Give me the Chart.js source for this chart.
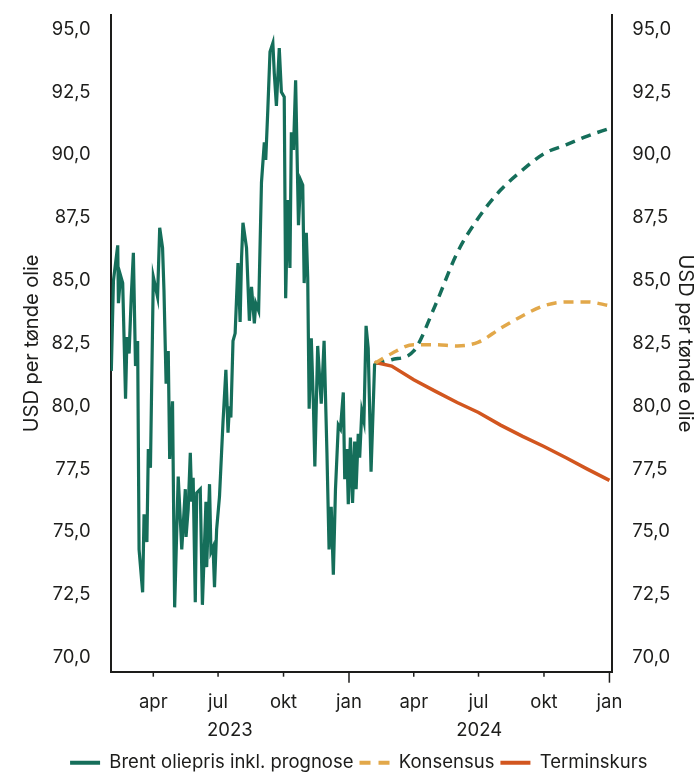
<!DOCTYPE html>
<html lang="da">
<head>
<meta charset="utf-8">
<title>Brent oliepris</title>
<script src="https://cdn.jsdelivr.net/npm/chart.js@4.4.1/dist/chart.umd.min.js"></script>
<style>
  html, body { margin: 0; padding: 0; background: #fff; overflow: hidden; }
  #wrap { width: 694px; height: 773px; position: relative; }
</style>
</head>
<body>
<div id="wrap"><canvas id="oilChart"></canvas></div>
<script>
// Brent, historisk
const histDates = [
  '2023-02-01','2023-02-04','2023-02-10','2023-02-11','2023-02-14','2023-02-17','2023-02-21','2023-02-23',
  '2023-02-26','2023-03-01','2023-03-04','2023-03-07','2023-03-10','2023-03-12','2023-03-17','2023-03-19',
  '2023-03-23','2023-03-25','2023-03-28','2023-04-01','2023-04-04','2023-04-07','2023-04-10','2023-04-14',
  '2023-04-16','2023-04-19','2023-04-22','2023-04-24','2023-04-28','2023-05-01','2023-05-06','2023-05-11',
  '2023-05-16','2023-05-17','2023-05-20','2023-05-23','2023-05-25','2023-05-27','2023-05-30','2023-06-01',
  '2023-06-06','2023-06-09','2023-06-14','2023-06-15','2023-06-19','2023-06-21','2023-06-24','2023-06-26',
  '2023-06-29','2023-07-03','2023-07-06','2023-07-08','2023-07-12','2023-07-15','2023-07-17','2023-07-19',
  '2023-07-22','2023-07-25','2023-07-29','2023-08-01','2023-08-03','2023-08-05','2023-08-10','2023-08-14',
  '2023-08-17','2023-08-21','2023-08-23','2023-08-27','2023-08-31','2023-09-04','2023-09-06','2023-09-09',
  '2023-09-12','2023-09-16','2023-09-18','2023-09-21','2023-09-25','2023-09-28','2023-10-02','2023-10-04',
  '2023-10-07','2023-10-10','2023-10-12','2023-10-15','2023-10-18','2023-10-22','2023-10-25','2023-10-28',
  '2023-10-30','2023-11-02','2023-11-04','2023-11-06','2023-11-09','2023-11-12','2023-11-14','2023-11-18',
  '2023-11-21','2023-11-23','2023-11-27','2023-12-01','2023-12-04','2023-12-07','2023-12-10','2023-12-13',
  '2023-12-17','2023-12-20','2023-12-24','2023-12-26','2023-12-29','2023-12-31','2024-01-03','2024-01-06',
  '2024-01-09','2024-01-11','2024-01-14','2024-01-16','2024-01-19','2024-01-22','2024-01-25','2024-01-28',
  '2024-02-01','2024-02-03','2024-02-06'
];
const histValues = [
  81.4, 85.0, 86.4, 84.1, 85.2, 84.9, 80.3, 82.75,
  82.1, 84.35, 86.1, 81.6, 82.6, 74.3, 72.6, 75.7,
  74.6, 78.3, 77.55, 85.15, 84.75, 84.35, 87.1, 86.3,
  84.6, 80.9, 82.2, 77.9, 80.2, 72.0, 77.2, 74.3,
  76.7, 74.8, 75.9, 78.15, 76.2, 77.15, 72.2, 76.55,
  76.7, 72.1, 76.2, 73.6, 76.9, 74.2, 74.4, 72.8,
  75.1, 76.4, 78.2, 79.4, 81.45, 78.95, 80.0, 79.55,
  82.6, 82.9, 85.7, 83.35, 85.9, 87.3, 86.3, 83.4,
  84.75, 83.3, 84.1, 83.8, 88.9, 90.5, 89.8, 91.85,
  94.1, 94.45, 93.25, 91.95, 94.25, 92.5, 92.3, 84.3,
  88.2, 85.5, 90.9, 90.2, 92.97, 87.2, 89.0, 88.8,
  84.9, 86.9, 85.1, 79.9, 82.7, 80.05, 77.6, 82.4,
  81.0, 80.1, 82.6, 78.15, 74.3, 76.0, 73.3, 76.7,
  79.25, 79.1, 80.55, 77.1, 78.3, 76.1, 78.75, 76.15,
  78.6, 76.7, 78.9, 77.95, 79.8, 79.4, 83.2, 82.3,
  77.4, 79.1, 81.7
];

// Prognoser
const forecastDates = [
  '2024-02-06','2024-03-01','2024-04-01','2024-05-01','2024-06-01','2024-07-01',
  '2024-08-01','2024-09-01','2024-10-01','2024-11-01','2024-12-01','2025-01-01'
];
const brentForecast = [81.7, 81.85, 82.2, 84.0, 86.1, 87.5, 88.6, 89.4, 90.05, 90.4, 90.75, 91.05];
const consensusValues = [81.7, 82.1, 82.45, 82.45, 82.4, 82.55, 83.1, 83.6, 84.0, 84.15, 84.15, 84.0];
const futuresValues = [81.75, 81.6, 81.05, 80.6, 80.15, 79.75, 79.25, 78.8, 78.4, 77.95, 77.5, 77.05];

// Akser
const monthTickDates = ['2023-04-01','2023-07-01','2023-10-01','2024-01-01','2024-04-01','2024-07-01','2024-10-01','2025-01-01'];
const monthTickLabels = ['apr','jul','okt','jan','apr','jul','okt','jan'];
const yearLabels = ['2023', '2024'];
const yTickValues = [70, 72.5, 75, 77.5, 80, 82.5, 85, 87.5, 90, 92.5, 95];
const axisTitle = 'USD per tønde olie';

const GREEN = '#156e5a';
const SAND = '#e2a84a';
const RUST = '#d2561f';
const INK = '#1d1d1b';
const FONT = 'Inter, "Noto Sans", sans-serif';
const TEXT = { family: FONT, size: 18.5 };

const DAY0 = Date.parse('2023-01-01');
const toDay = s => (Date.parse(s) - DAY0) / 864e5;
const toPoints = (dates, values) => dates.map((d, i) => ({ x: toDay(d), y: values[i] }));

const xMin = toDay('2023-01-31');
const xMax = toDay('2025-01-05');

// midten af hvert synligt år til årstallene
const yearCenters = yearLabels.map(y => {
  const a = Math.max(xMin, toDay(y + '-01-01'));
  const b = Math.min(xMax, toDay((+y + 1) + '-01-01'));
  return (a + b) / 2;
});

const fmtNum = v => v.toFixed(1).replace('.', ',');

// tickLength bruges kun som luft mellem akse og tal (stregerne vises ikke)
const yAxis = (position, titleGap) => ({
  position,
  min: 69.44,
  max: 95.56,
  afterBuildTicks: scale => { scale.ticks = yTickValues.map(v => ({ value: v })); },
  grid: { display: false, drawTicks: true, tickLength: 16 },
  border: { display: true, color: INK, width: 2 },
  ticks: {
    padding: 4,
    color: INK,
    font: TEXT,
    callback: v => fmtNum(v)
  },
  title: {
    display: true,
    text: axisTitle,
    color: INK,
    font: { family: FONT, size: 20, lineHeight: 1 },
    padding: { top: 0, bottom: titleGap }
  }
});

// kvartalsstreger, længere ved årsskiftet
const monthTicks = {
  id: 'monthTicks',
  afterDraw(chart) {
    const { ctx, scales: { x } } = chart;
    ctx.save();
    ctx.strokeStyle = INK;
    ctx.lineWidth = 1.5;
    monthTickDates.forEach((d, i) => {
      const px = x.getPixelForValue(toDay(d));
      const len = monthTickLabels[i] === 'jan' ? 11 : 5;
      ctx.beginPath();
      ctx.moveTo(px, x.top);
      ctx.lineTo(px, x.top + len);
      ctx.stroke();
    });
    ctx.restore();
  }
};

const ctx = document.getElementById('oilChart').getContext('2d');
new Chart(ctx, {
  type: 'line',
  data: {
    datasets: [
      {
        label: 'Brent oliepris inkl. prognose',
        data: toPoints(histDates, histValues),
        borderColor: GREEN,
        borderWidth: 3.2,
        pointRadius: 0,
        tension: 0
      },
      {
        label: 'Konsensus',
        data: toPoints(forecastDates, consensusValues),
        borderColor: SAND,
        borderWidth: 3.5,
        borderDash: [10, 7],
        pointRadius: 0,
        cubicInterpolationMode: 'monotone'
      },
      {
        label: 'Terminskurs',
        data: toPoints(forecastDates, futuresValues),
        borderColor: RUST,
        borderWidth: 3.5,
        pointRadius: 0,
        tension: 0
      },
      {
        label: 'Brent prognose',
        legendHidden: true,
        data: toPoints(forecastDates, brentForecast),
        borderColor: GREEN,
        borderWidth: 3.5,
        borderDash: [10, 7],
        pointRadius: 0,
        cubicInterpolationMode: 'monotone'
      }
    ]
  },
  options: {
    responsive: true,
    maintainAspectRatio: false,
    animation: false,
    layout: { padding: { left: 22, right: -1.5, top: 15, bottom: -9 } },
    scales: {
      x: {
        type: 'linear',
        position: 'bottom',
        min: xMin,
        max: xMax,
        afterBuildTicks: scale => { scale.ticks = monthTickDates.map(d => ({ value: toDay(d) })); },
        grid: { display: true, drawOnChartArea: false, tickLength: 20, tickColor: 'rgba(0,0,0,0)' },
        border: { display: true, color: INK, width: 2 },
        ticks: {
          autoSkip: false,
          maxRotation: 0,
          padding: 0,
          color: INK,
          font: TEXT,
          callback: (v, i) => monthTickLabels[i]
        }
      },
      xYear: {
        type: 'linear',
        position: 'bottom',
        min: xMin,
        max: xMax,
        afterBuildTicks: scale => { scale.ticks = yearCenters.map(v => ({ value: v })); },
        grid: { display: false, drawTicks: false },
        border: { display: false },
        ticks: {
          autoSkip: false,
          maxRotation: 0,
          padding: 5.7,
          color: INK,
          font: TEXT,
          callback: (v, i) => yearLabels[i]
        }
      },
      y: yAxis('left', 5.4),
      y2: yAxis('right', 0)
    },
    plugins: {
      tooltip: { enabled: false },
      legend: {
        position: 'bottom',
        labels: {
          usePointStyle: true,
          pointStyleWidth: 30,
          padding: 6,
          color: INK,
          font: TEXT,
          generateLabels: chart => chart.data.datasets
            .map((ds, i) => ({
              text: ds.label,
              datasetIndex: i,
              pointStyle: 'line',
              strokeStyle: ds.borderColor,
              fillStyle: ds.borderColor,
              fontColor: INK,
              lineWidth: 4,
              lineDash: ds.borderDash ? [11, 8] : [],
              hidden: !chart.isDatasetVisible(i),
              skip: !!ds.legendHidden
            }))
            .filter(item => !item.skip)
        }
      }
    }
  },
  plugins: [monthTicks]
});
</script>
</body>
</html>
